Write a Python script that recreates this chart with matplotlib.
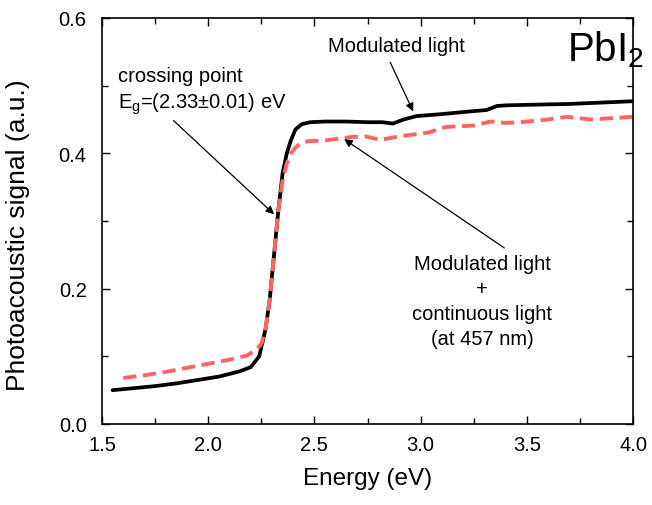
import matplotlib
matplotlib.use("Agg")
import matplotlib.pyplot as plt
from matplotlib.ticker import MultipleLocator

plt.rcParams["font.family"] = ["Liberation Sans", "DejaVu Sans"]

# modulated light only
e_mod = [1.55, 1.65, 1.75, 1.85, 1.95, 2.05, 2.15, 2.20, 2.24, 2.27, 2.29,
         2.31, 2.33, 2.35, 2.37, 2.39, 2.41, 2.44, 2.48, 2.55, 2.65, 2.75,
         2.82, 2.87, 2.92, 2.98, 3.10, 3.20, 3.31, 3.36, 3.41, 3.55, 3.70,
         3.85, 4.00]
s_mod = [0.050, 0.053, 0.056, 0.060, 0.065, 0.070, 0.078, 0.084, 0.100,
         0.140, 0.185, 0.250, 0.315, 0.370, 0.400, 0.420, 0.435, 0.443,
         0.446, 0.447, 0.447, 0.446, 0.446, 0.444, 0.450, 0.455, 0.458,
         0.461, 0.464, 0.470, 0.471, 0.472, 0.473, 0.475, 0.477]

# modulated + continuous light (457 nm)
e_cont = [1.60, 1.70, 1.80, 1.90, 2.00, 2.10, 2.18, 2.22, 2.25, 2.27, 2.29,
          2.31, 2.33, 2.35, 2.37, 2.39, 2.41, 2.43, 2.47, 2.55, 2.67, 2.74,
          2.81, 2.90, 3.04, 3.12, 3.25, 3.33, 3.40, 3.47, 3.60, 3.69, 3.80,
          3.90, 4.00]
s_cont = [0.068, 0.072, 0.077, 0.083, 0.089, 0.095, 0.101, 0.108, 0.118,
          0.140, 0.185, 0.250, 0.315, 0.360, 0.385, 0.400, 0.408, 0.414,
          0.418, 0.419, 0.424, 0.425, 0.420, 0.425, 0.431, 0.439, 0.441,
          0.447, 0.445, 0.446, 0.450, 0.454, 0.450, 0.452, 0.454]

fig = plt.figure(figsize=(6.52, 5.06), dpi=100)
ax = fig.add_axes([102 / 652, 81 / 506, 531 / 652, 406 / 506])

ax.plot(e_mod, s_mod, "-", color="black", lw=2.7, solid_capstyle="round")
ax.plot(e_cont, s_cont, "--", color="#ff6464", lw=2.8, dashes=(3.4, 1.7))

ax.set_xlim(1.5, 4.0)
ax.set_ylim(0.0, 0.6)
ax.xaxis.set_major_locator(MultipleLocator(0.5))
ax.xaxis.set_minor_locator(MultipleLocator(0.25))
ax.yaxis.set_major_locator(MultipleLocator(0.2))
ax.yaxis.set_minor_locator(MultipleLocator(0.1))
ax.xaxis.set_major_formatter(plt.FormatStrFormatter("%.1f"))
ax.yaxis.set_major_formatter(plt.FormatStrFormatter("%.1f"))
ax.tick_params(which="both", direction="in", top=True, right=True,
               width=1.0, labelsize=14.5)
ax.tick_params(axis="x", which="major", pad=8)
ax.tick_params(axis="y", which="major", pad=11)
ax.tick_params(which="major", length=6)
ax.tick_params(which="minor", length=4)
for s in ax.spines.values():
    s.set_linewidth(1.2)

ax.set_xlabel("Energy (eV)", fontsize=17.5, labelpad=9)
ax.set_ylabel("Photoacoustic signal (a.u.)", fontsize=19)
ax.yaxis.set_label_coords(-0.136, 0.468)

ax.text(3.69, 0.555, "PbI$_\\mathregular{2}$", fontsize=29, ha="left", va="center")

ax.annotate("crossing point\nE$_\\mathregular{g}$=(2.33±0.01) eV",
            xy=(2.31, 0.31), xytext=(1.575, 0.492),
            fontsize=14.5, ha="left", va="center", linespacing=1.3,
            arrowprops=dict(arrowstyle="-|>", color="black", lw=0.9,
                            mutation_scale=12, shrinkA=2, shrinkB=0,
                            relpos=(0.3, 0.0)))
ax.annotate("Modulated light", xy=(2.965, 0.462), xytext=(2.885, 0.560),
            fontsize=14.5, ha="center", va="center",
            arrowprops=dict(arrowstyle="-|>", color="black", lw=0.9,
                            mutation_scale=12, shrinkA=4, shrinkB=0,
                            relpos=(0.43, 0.0)))
ax.annotate("Modulated light\n+\ncontinuous light\n(at 457 nm)",
            xy=(2.64, 0.421), xytext=(3.29, 0.182),
            fontsize=14.5, ha="center", va="center", linespacing=1.4,
            arrowprops=dict(arrowstyle="-|>", color="black", lw=0.9,
                            mutation_scale=12, shrinkA=4, shrinkB=0,
                            relpos=(0.72, 1.0)))

fig.savefig("out.png", dpi=100)
